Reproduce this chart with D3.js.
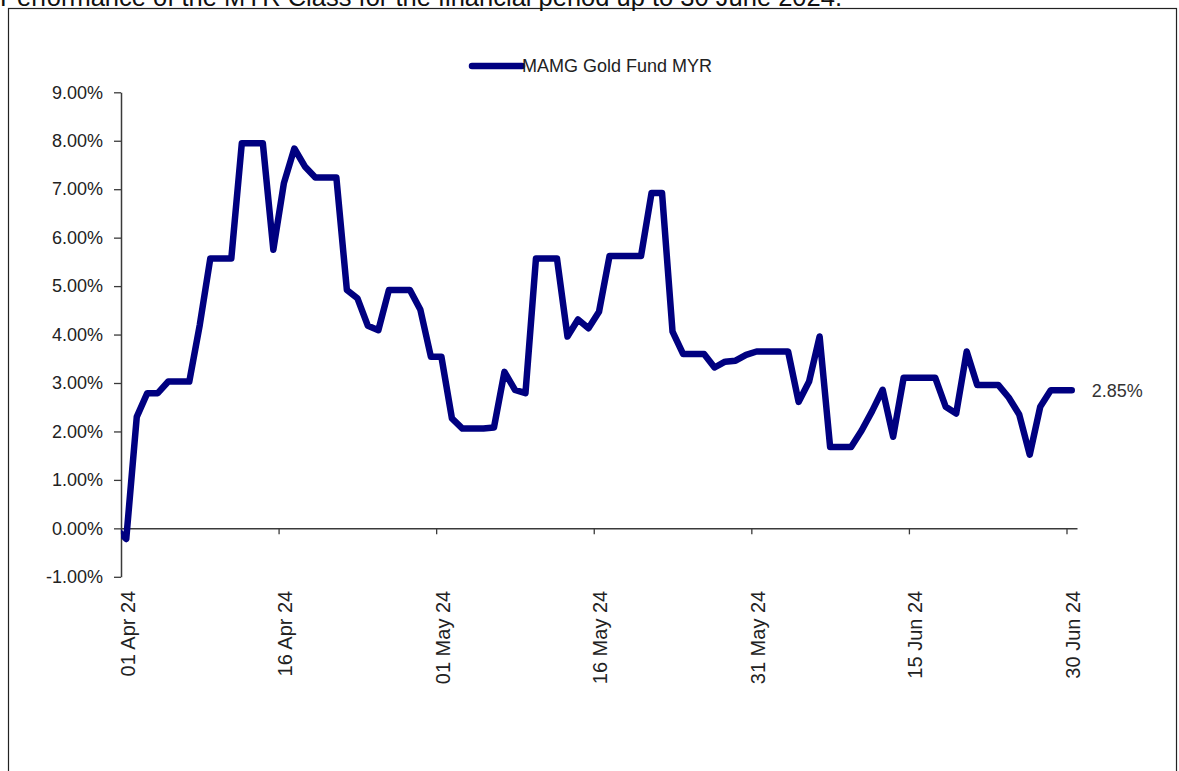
<!DOCTYPE html>
<html>
<head>
<meta charset="utf-8">
<script src="https://cdn.jsdelivr.net/npm/d3@7"></script>
<style>
  html, body { margin: 0; padding: 0; background: #fff; }
  svg { display: block; font-family: "Liberation Sans", Arial, sans-serif; }
</style>
</head>
<body>
<svg id="chart" width="1179" height="771"></svg>
<script>
// ---- data ----
const title = "Performance of the MYR Class for the financial period up to 30 June 2024.";
const seriesName = "MAMG Gold Fund MYR";
const startDate = "2024-03-31";            // first value belongs to this date, one value per day
const values = [
  0.00,                                               // 31 Mar
  -0.22, 2.30, 2.79, 2.79, 3.03, 3.03, 3.03,          // 01-07 Apr
  4.20, 5.57, 5.57, 5.57, 7.95, 7.95, 7.95,           // 08-14 Apr
  5.75, 7.12, 7.84, 7.47, 7.24, 7.24, 7.24,           // 15-21 Apr
  4.92, 4.75, 4.18, 4.09, 4.92, 4.92, 4.92,           // 22-28 Apr
  4.51, 3.54, 3.54, 2.27, 2.06, 2.06, 2.06,           // 29 Apr-05 May
  2.08, 3.23, 2.86, 2.79, 5.57, 5.57, 5.57,           // 06-12 May
  3.96, 4.31, 4.13, 4.47, 5.62, 5.62, 5.62,           // 13-19 May
  5.62, 6.92, 6.92, 4.06, 3.60, 3.60, 3.60,           // 20-26 May
  3.32, 3.44, 3.46, 3.58, 3.65, 3.65, 3.65,           // 27 May-02 Jun
  3.65, 2.61, 3.03, 3.96, 1.68, 1.68, 1.68,           // 03-09 Jun
  2.02, 2.42, 2.86, 1.89, 3.11, 3.11, 3.11,           // 10-16 Jun
  3.11, 2.51, 2.37, 3.65, 2.96, 2.96, 2.96,           // 17-23 Jun
  2.70, 2.35, 1.52, 2.51, 2.85, 2.85, 2.85            // 24-30 Jun
];
const xDomain = ["2024-04-01", "2024-07-01"];
const xTickDates = ["2024-04-01", "2024-04-16", "2024-05-01", "2024-05-16", "2024-05-31", "2024-06-15", "2024-06-30"];
const xTickLabels = ["01 Apr 24", "16 Apr 24", "01 May 24", "16 May 24", "31 May 24", "15 Jun 24", "30 Jun 24"];
const yTicks = [-1, 0, 1, 2, 3, 4, 5, 6, 7, 8, 9];
const yTickLabels = ["-1.00%", "0.00%", "1.00%", "2.00%", "3.00%", "4.00%", "5.00%", "6.00%", "7.00%", "8.00%", "9.00%"];
const yDomain = [-1, 9];
const lastLabel = "2.85%";

// ---- layout ----
const plot = { left: 121, right: 1077, top: 92.3, bottom: 576.8 };
const lineColor = "#000080";
const axisColor = "#3a3a3a";
const textColor = "#222";

const svg = d3.select("#chart");
const parse = d3.utcParse("%Y-%m-%d");

const x = d3.scaleUtc().domain(xDomain.map(parse)).range([plot.left, plot.right]);
const y = d3.scaleLinear().domain(yDomain).range([plot.bottom, plot.top]);

const t0 = parse(startDate);
const data = values.map((v, i) => ({
  date: d3.utcHour.offset(d3.utcDay.offset(t0, i), 12),
  value: v
}));

// frame
svg.append("rect")
  .attr("x", 8.5).attr("y", 8.5).attr("width", 1168).attr("height", 800)
  .attr("fill", "none").attr("stroke", "#222").attr("stroke-width", 1.2);

// title (cut at top edge, as in the reference)
svg.append("text")
  .attr("x", 0).attr("y", 5.5)
  .attr("font-size", 25.5).attr("fill", "#111")
  .text(title);

// clip
svg.append("clipPath").attr("id", "clip")
  .append("rect")
  .attr("x", plot.left).attr("y", 0)
  .attr("width", plot.right - plot.left + 20).attr("height", 771);

// y axis
const yAxis = svg.append("g")
  .attr("transform", `translate(${plot.left},0)`)
  .call(d3.axisLeft(y).tickValues(yTicks).tickSize(7).tickSizeOuter(0).tickPadding(11)
    .tickFormat((d, i) => yTickLabels[i]));
yAxis.select(".domain").attr("stroke", axisColor).attr("stroke-width", 1.5);
yAxis.selectAll(".tick line").attr("stroke", axisColor).attr("stroke-width", 1.3);
yAxis.selectAll(".tick text")
  .attr("fill", textColor).attr("font-size", 18)
  .attr("font-family", "'Liberation Sans', Arial, sans-serif");

// x axis
const xAxis = svg.append("g")
  .attr("transform", `translate(0,${y(0)})`)
  .call(d3.axisBottom(x).tickValues(xTickDates.map(parse)).tickSize(6).tickSizeOuter(0)
    .tickFormat((d, i) => xTickLabels[i]));
xAxis.select(".domain").attr("stroke", axisColor).attr("stroke-width", 1.5);
xAxis.selectAll(".tick line").attr("stroke", axisColor).attr("stroke-width", 1.3);
xAxis.selectAll(".tick text")
  .attr("transform", "rotate(-90)")
  .attr("x", -(y(-1) + 14 - y(0)))
  .attr("y", 13)
  .attr("dy", null)
  .style("text-anchor", "end")
  .attr("fill", textColor).attr("font-size", 20)
  .attr("font-family", "'Liberation Sans', Arial, sans-serif");

// line
const line = d3.line().x(d => x(d.date)).y(d => y(d.value));
svg.append("path")
  .datum(data)
  .attr("clip-path", "url(#clip)")
  .attr("fill", "none")
  .attr("stroke", lineColor)
  .attr("stroke-width", 6.5)
  .attr("stroke-linejoin", "round")
  .attr("stroke-linecap", "round")
  .attr("d", line);

// last value label
const last = data[data.length - 1];
svg.append("text")
  .attr("x", x(last.date) + 20).attr("y", y(last.value))
  .attr("dy", "0.35em")
  .attr("font-size", 18).attr("fill", "#333")
  .text(lastLabel);

// legend
const lg = svg.append("g").attr("transform", "translate(472,66)");
lg.append("line").attr("x1", 0).attr("x2", 50).attr("y1", 0).attr("y2", 0)
  .attr("stroke", lineColor).attr("stroke-width", 6.5).attr("stroke-linecap", "round");
lg.append("text").attr("x", 50).attr("y", 0).attr("dy", "0.35em")
  .attr("font-size", 18).attr("fill", textColor).text(seriesName);
</script>
</body>
</html>
